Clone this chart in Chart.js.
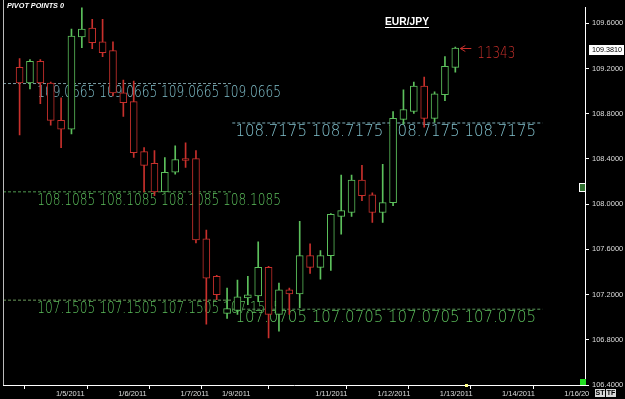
<!DOCTYPE html>
<html><head><meta charset="utf-8">
<script src="https://cdn.jsdelivr.net/npm/chart.js@4"></script>
<style>html,body{margin:0;padding:0;background:#000;}#wrap{width:625px;height:399px;position:relative;}</style>
</head><body><div id="wrap"><canvas id="c" width="625" height="399"></canvas></div>
<script>
const symbol = 'EUR/JPY';
const indicatorName = 'PIVOT POINTS 0';
const opens  = [109.210,109.071,109.262,109.071,108.741,108.663,109.479,109.557,109.435,109.357,108.984,108.906,108.464,108.360,108.108,108.282,108.403,108.403,107.692,107.362,107.033,107.059,107.171,107.189,107.440,107.024,107.241,107.206,107.545,107.440,107.545,107.891,107.926,108.212,108.082,107.926,108.013,108.750,108.819,109.045,108.759,108.967,109.210];
const highs  = [109.288,109.279,109.279,109.080,108.941,109.548,109.782,109.635,109.635,109.435,109.097,109.088,108.499,108.473,108.412,108.516,108.542,108.473,107.770,107.371,107.258,107.327,107.362,107.666,107.449,107.302,107.258,107.848,107.649,107.588,107.917,108.256,108.256,108.342,108.100,108.351,108.819,109.010,109.080,109.123,108.993,109.305,109.390];
const lows   = [108.611,109.019,108.889,108.698,108.499,108.620,109.383,109.375,109.305,108.958,108.776,108.412,108.108,108.074,108.108,108.264,108.325,107.657,106.937,107.154,106.990,107.024,107.111,107.137,106.817,106.877,107.024,107.085,107.388,107.336,107.414,107.735,107.891,108.030,107.839,107.839,107.987,108.707,108.802,108.681,108.724,108.915,109.166];
const closes = [109.071,109.262,109.071,108.741,108.663,109.487,109.548,109.427,109.340,108.984,108.897,108.455,108.342,108.108,108.282,108.394,108.386,107.683,107.345,107.198,107.076,107.180,107.198,107.440,107.024,107.241,107.206,107.545,107.440,107.545,107.909,107.943,108.212,108.074,107.926,108.013,108.759,108.837,109.045,108.759,108.976,109.218,109.381];
const dateTickBars   = [4,10,16,20,29,35,41,47,53];
const dateTickLabels = ['1/5/2011','1/6/2011','1/7/2011','1/9/2011','1/11/2011','1/12/2011','1/13/2011','1/14/2011','1/16/20'];
const priceTicks = [106.4,106.8,107.2,107.6,108.0,108.4,108.8,109.2,109.6];
const currentPrice = 109.381;
const markerLabel = '11343';
const pivotLevels   = [109.0665,108.1085,107.1505,108.7175,107.0705];
const pivotFromBar  = [-1.6,-1.6,-1.6,20.5,20.5];
const pivotToBar    = [20.5,20.5,20.5,50.4,50.4];
const pivotTextFrom = [1.7,1.7,1.7,20.8,20.8];
const pivotTextTo   = [25.2,25.2,25.2,50.3,50.3];

const BULL = '#5cc05c', BEAR = '#c8302c';
const pivotLineColors = ['#7a9aa0','#4f9a4f','#6a9a5a','#7fb0bb','#5a9a5a'];
const pivotTextColors = ['#80c0cc','#5cbf5c','#5cbf5c','#80c0cc','#5cbf5c'];

const idx = opens.map((_, i) => i);
const colorOf = i => closes[i] >= opens[i] ? BULL : BEAR;

const wickData = idx.map(i => ({x: i, y: [lows[i], highs[i]]}));
const bodyData = idx.map(i => ({x: i, y: [opens[i], closes[i]]}));

const datasets = [];
pivotLevels.forEach((lv, k) => {
  datasets.push({
    type: 'line',
    data: [{x: pivotFromBar[k], y: lv}, {x: pivotToBar[k], y: lv}],
    borderColor: pivotLineColors[k], borderWidth: 1, borderDash: [3, 2],
    pointRadius: 0, order: 5
  });
});
datasets.push({
  type: 'bar', data: wickData, grouped: false, order: 3,
  barThickness: 1, backgroundColor: idx.map(colorOf), borderWidth: 0
});
datasets.push({
  type: 'bar', data: bodyData, grouped: false, order: 1,
  barThickness: 7, backgroundColor: '#000', borderColor: idx.map(colorOf),
  borderWidth: 1, borderSkipped: false, minBarLength: 1
});

const decor = {
  id: 'decor',
  beforeDatasetsDraw(chart) {
    const {ctx} = chart, xs = chart.scales.x, ys = chart.scales.y;
    ctx.save();
    ctx.font = "200 15px 'DejaVu Sans'";
    ctx.textBaseline = 'alphabetic';
    ctx.textAlign = 'left';
    pivotLevels.forEach((lv, k) => {
      const t = Array(4).fill(lv.toFixed(4)).join(' ');
      const x0 = xs.getPixelForValue(pivotTextFrom[k]);
      const x1 = xs.getPixelForValue(pivotTextTo[k]);
      const py = ys.getPixelForValue(lv);
      ctx.fillStyle = pivotTextColors[k];
      ctx.fillText(t, x0, py + 13, x1 - x0);
    });
    ctx.restore();
  },
  afterDraw(chart) {
    const {ctx, chartArea: a} = chart, xs = chart.scales.x, ys = chart.scales.y;
    ctx.save();
    // left border
    ctx.strokeStyle = '#bbb'; ctx.lineWidth = 1;
    ctx.beginPath(); ctx.moveTo(a.left + 0.5, 0); ctx.lineTo(a.left + 0.5, a.bottom); ctx.stroke();
    // indicator name
    ctx.fillStyle = '#fff';
    ctx.font = "italic bold 8px 'Liberation Sans'";
    ctx.textBaseline = 'middle'; ctx.textAlign = 'left';
    ctx.fillText(indicatorName, 7, 6, 57);
    // symbol
    ctx.font = "bold 11px 'Liberation Sans'";
    ctx.textBaseline = 'alphabetic';
    ctx.fillText(symbol, 385, 25, 44);
    ctx.fillRect(385, 27, 44, 1);
    // arrow + marker label at last candle
    const last = opens.length - 1;
    const ax = xs.getPixelForValue(last) + 5, ay = Math.round(ys.getPixelForValue(highs[last])) + 1.5;
    ctx.strokeStyle = BEAR; ctx.lineWidth = 1;
    ctx.beginPath();
    ctx.moveTo(ax + 11, ay); ctx.lineTo(ax, ay);
    ctx.moveTo(ax + 5, ay - 3); ctx.lineTo(ax, ay); ctx.lineTo(ax + 5, ay + 3);
    ctx.stroke();
    ctx.fillStyle = BEAR;
    ctx.font = "200 15px 'DejaVu Sans'";
    ctx.fillText(markerLabel, ax + 17, ay + 9, 38);
    // current price box
    const cy = ys.getPixelForValue(currentPrice) + 2;
    ctx.fillStyle = '#fff';
    ctx.fillRect(589, Math.round(cy) - 5, 35, 10);
    ctx.fillStyle = '#000';
    ctx.font = "7.5px 'Liberation Sans'";
    ctx.textBaseline = 'middle';
    ctx.fillText(currentPrice.toFixed(4), 592, cy, 30);
    // right axis marker icon
    ctx.fillStyle = '#2f6f2f';
    ctx.fillRect(580, 184, 5, 7);
    ctx.strokeStyle = '#fff';
    ctx.strokeRect(579.5, 183.5, 6, 8);
    // bottom-right decorations
    ctx.fillStyle = '#22dd22';
    ctx.fillRect(580, 379, 6, 6);
    ctx.fillStyle = '#ffff88';
    ctx.fillRect(465, 384, 3, 3);
    ctx.fillStyle = '#d8d8d8';
    ctx.fillRect(595, 389, 10, 8);
    ctx.fillRect(606, 389, 10, 8);
    ctx.fillStyle = '#000';
    ctx.font = "bold 7px 'Liberation Sans'";
    ctx.textAlign = 'center';
    ctx.fillText('ST', 600, 393.5);
    ctx.fillText('TF', 611, 393.5);
    ctx.restore();
  }
};

new Chart(document.getElementById('c'), {
  type: 'bar',
  data: {datasets},
  options: {
    responsive: false, animation: false, devicePixelRatio: 1,
    layout: {padding: {left: 3, top: 0, right: 0, bottom: 0}},
    plugins: {legend: {display: false}, tooltip: {enabled: false}},
    scales: {
      x: {
        type: 'linear', offset: false, min: -1.6, max: 54.5,
        afterBuildTicks: s => { s.ticks = dateTickBars.map(b => ({value: b - 0.5})); },
        afterFit: s => { s.height = 14; },
        border: {display: true, color: '#fff', width: 1},
        grid: {display: true, drawOnChartArea: false, drawTicks: true, tickLength: 4, color: '#fff'},
        ticks: {
          autoSkip: false, maxRotation: 0, align: 'start', padding: 0,
          color: '#ddd', font: {family: 'Liberation Sans', size: 7.5},
          callback: (v, i) => dateTickLabels[i]
        }
      },
      y: {
        type: 'linear', position: 'right', min: 106.4, max: 109.739,
        afterBuildTicks: s => { s.ticks = priceTicks.map(v => ({value: v})); },
        afterFit: s => { s.width = 40; },
        border: {display: true, color: '#fff', width: 1},
        grid: {display: true, drawOnChartArea: false, drawTicks: true, tickLength: 4, color: '#fff'},
        ticks: {
          padding: 3, color: '#ddd', font: {family: 'Liberation Sans', size: 7.5},
          callback: v => Number(v).toFixed(4)
        }
      }
    }
  },
  plugins: [decor]
});
</script></body></html>
